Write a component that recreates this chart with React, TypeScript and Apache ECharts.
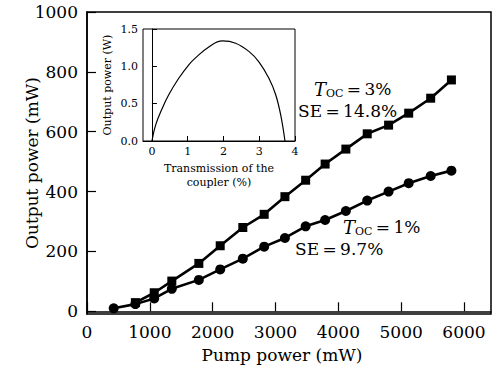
import React, { useEffect, useRef } from "react";
import * as echarts from "echarts";

const FONT = "'DejaVu Serif', serif";

// Main chart data
const pumpPower = [425, 770, 1070, 1350, 1780, 2120, 2480, 2820, 3150, 3480, 3790, 4120, 4460, 4800, 5120, 5470, 5800];
const outToc1 = [10, 24, 43, 75, 105, 140, 176, 216, 245, 284, 305, 335, 370, 400, 428, 452, 470];
const pumpToc3 = [770, 1070, 1350, 1780, 2120, 2480, 2820, 3150, 3480, 3790, 4120, 4460, 4800, 5120, 5470, 5800];
const outToc3 = [29, 62, 101, 160, 219, 280, 324, 383, 438, 492, 542, 593, 622, 662, 712, 773];
const xTicks = [0, 1000, 2000, 3000, 4000, 5000, 6000];
const yTicks = [0, 200, 400, 600, 800, 1000];

// Inset data
const transmission = [0, 0.1, 0.29, 0.47, 0.75, 1.03, 1.21, 1.59, 1.97, 2.34, 2.71, 2.99, 3.27, 3.46, 3.6, 3.72];
const insetPower = [0, 0.21, 0.44, 0.62, 0.84, 1.02, 1.11, 1.26, 1.34, 1.31, 1.2, 1.06, 0.84, 0.62, 0.35, 0];
const insetXTicks = [0, 1, 2, 3, 4];

export default function App() {
  const ref = useRef<HTMLDivElement>(null);
  useEffect(() => {
    if (!ref.current) return;
    const chart = echarts.init(ref.current, null, { renderer: "svg" });
    const lbl = { color: "#000", fontFamily: FONT };
    const plain = (v: number) => String(v);
    const richStyle = {
      i: { fontFamily: FONT, fontStyle: "italic", fontSize: 18, fill: "#000", lineHeight: 17 },
      s: { fontFamily: FONT, fontSize: 11, fill: "#000", lineHeight: 11, padding: [8, 0, 0, 0] },
      n: { fontFamily: FONT, fontSize: 17, fill: "#000", lineHeight: 17 },
    };
    chart.setOption({
      animation: false,
      backgroundColor: "#fff",
      textStyle: { fontFamily: FONT, color: "#000" },
      grid: [
        { left: 87, right: 2, top: 12, bottom: 58, show: true, borderColor: "#000", borderWidth: 1.5, backgroundColor: "transparent" },
        { left: 143, top: 29, width: 152, height: 112, show: true, borderColor: "#000", borderWidth: 1, backgroundColor: "#fff", z: 5 },
      ],
      xAxis: [
        {
          type: "value", gridIndex: 0, min: 0, max: 6430,
          name: "Pump power (mW)", nameLocation: "middle", nameGap: 32, nameMoveOverlap: false,
          nameTextStyle: { ...lbl, fontSize: 17, padding: [0, 14, 0, 0] },
          axisLine: { lineStyle: { color: "#000", width: 1.5 } },
          axisTick: { inside: true, length: 9, lineStyle: { color: "#000", width: 1.2 }, customValues: xTicks },
          axisLabel: { ...lbl, fontSize: 17, margin: 9, customValues: xTicks, formatter: plain },
          splitLine: { show: false },
        },
        {
          type: "value", gridIndex: 1, min: -0.25, max: 4,
          name: "Transmission of the\ncoupler (%)", nameLocation: "middle", nameGap: 20, nameMoveOverlap: false,
          nameTextStyle: { ...lbl, fontSize: 11, lineHeight: 14, verticalAlign: "top" },
          axisLine: { lineStyle: { color: "#000", width: 1 } },
          axisTick: { inside: true, length: 5, lineStyle: { color: "#000" }, customValues: insetXTicks },
          axisLabel: { ...lbl, fontSize: 11, margin: 5, customValues: insetXTicks, formatter: plain },
          splitLine: { show: false },
          z: 6,
        },
      ],
      yAxis: [
        {
          type: "value", gridIndex: 0, min: -9, max: 1000,
          name: "Output power (mW)", nameLocation: "middle", nameGap: 47, nameMoveOverlap: false,
          nameTextStyle: { ...lbl, fontSize: 17 },
          axisLine: { lineStyle: { color: "#000", width: 1.5 } },
          axisTick: { inside: true, length: 9, lineStyle: { color: "#000", width: 1.2 }, customValues: yTicks },
          axisLabel: { ...lbl, fontSize: 17, margin: 9, customValues: yTicks, formatter: plain },
          splitLine: { show: false },
        },
        {
          type: "value", gridIndex: 1, min: 0, max: 1.5, interval: 0.5,
          name: "Output power (W)", nameLocation: "middle", nameGap: 30, nameMoveOverlap: false,
          nameTextStyle: { ...lbl, fontSize: 11 },
          axisLine: { lineStyle: { color: "#000", width: 1 } },
          axisTick: { inside: true, length: 5, lineStyle: { color: "#000" } },
          axisLabel: { ...lbl, fontSize: 11, margin: 5, formatter: (v: number) => v.toFixed(1) },
          splitLine: { show: false },
          z: 6,
        },
      ],
      series: [
        {
          type: "line", xAxisIndex: 0, yAxisIndex: 0,
          data: pumpToc3.map((x, i) => [x, outToc3[i]]),
          symbol: "rect", symbolSize: 9, showSymbol: true,
          lineStyle: { color: "#000", width: 2.6 }, itemStyle: { color: "#000" },
          z: 2,
        },
        {
          type: "line", xAxisIndex: 0, yAxisIndex: 0,
          data: pumpPower.map((x, i) => [x, outToc1[i]]),
          symbol: "circle", symbolSize: 10, showSymbol: true,
          lineStyle: { color: "#000", width: 2.6 }, itemStyle: { color: "#000" },
          z: 3,
        },
        {
          type: "line", xAxisIndex: 1, yAxisIndex: 1,
          data: transmission.map((x, i) => [x, insetPower[i]]),
          symbol: "none", smooth: 0.4,
          lineStyle: { color: "#000", width: 1.2 },
          z: 7,
        },
      ],
      graphic: [
        {
          type: "text", x: 314, y: 89, z: 10,
          style: { text: "{i|T}{s|OC}{n|\u2009=\u20093%}", fill: "#000", verticalAlign: "middle", align: "left", rich: richStyle },
        },
        {
          type: "text", x: 298, y: 111, z: 10,
          style: { text: "SE\u2009=\u200914.8%", fill: "#000", fontFamily: FONT, fontSize: 17, verticalAlign: "middle", align: "left" },
        },
        {
          type: "text", x: 343, y: 227, z: 10,
          style: { text: "{i|T}{s|OC}{n|\u2009=\u20091%}", fill: "#000", verticalAlign: "middle", align: "left", rich: richStyle },
        },
        {
          type: "text", x: 295, y: 249, z: 10,
          style: { text: "SE\u2009=\u20099.7%", fill: "#000", fontFamily: FONT, fontSize: 17, verticalAlign: "middle", align: "left" },
        },
      ],
    });
    return () => chart.dispose();
  }, []);
  return <div ref={ref} style={{ position: "fixed", left: 0, top: 0, width: 493, height: 372 }} />;
}
